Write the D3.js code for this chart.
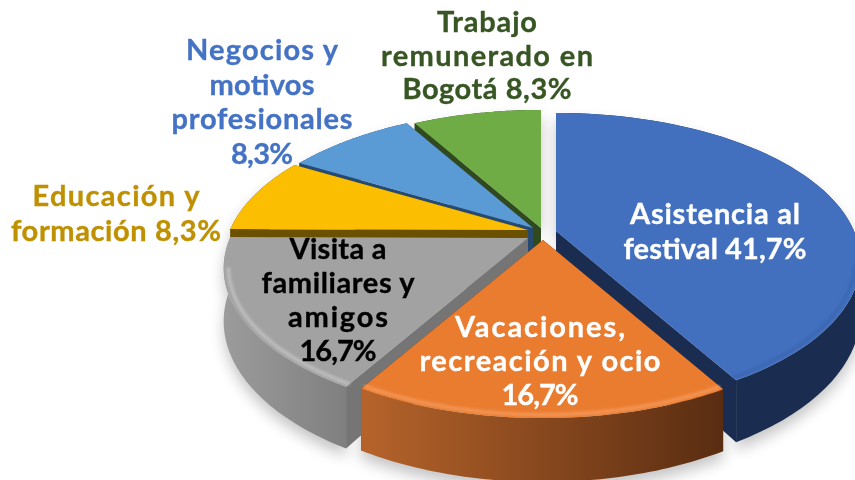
<!DOCTYPE html>
<html>
<head>
<meta charset="utf-8">
<script src="https://cdnjs.cloudflare.com/ajax/libs/d3/7.8.5/d3.min.js"></script>
<style>
  html, body { margin: 0; padding: 0; background: #fff; }
  svg { display: block; }
  text { font-family: "Lato", sans-serif; font-weight: 700; font-size: 29px; text-anchor: middle; stroke-width: 0.35px; }
</style>
</head>
<body>
<svg id="chart" width="855" height="480"></svg>
<script>
// values
var categories = ["Asistencia al festival", "Vacaciones, recreación y ocio", "Visita a familiares y amigos",
                  "Educación y formación", "Negocios y motivos profesionales", "Trabajo remunerado en Bogotá"]
var shares = [41.7, 16.7, 16.7, 8.3, 8.3, 8.3]
var labelLines = [
    ["Asistencia al", "festival 41,7%"],
    ["Vacaciones,", "recreación y ocio", "16,7%"],
    ["Visita a", "familiares y", "amigos", "16,7%"],
    ["Educación y", "formación 8,3%"],
    ["Negocios y", "motivos", "profesionales", "8,3%"],
    ["Trabajo", "remunerado en", "Bogotá 8,3%"]
]

// styling per slice
var topColors  = ["#4270bf", "#ea7c30", "#a2a2a2", "#fcbe00", "#5a9ad5", "#6fac46"]
var faceColors = ["#1a2c50", "#5c2e12", "#757575", "#6b5000", "#264a70", "#31491f"]
var textColors = ["#ffffff", "#ffffff", "#000000", "#bf9000", "#4472c4", "#375623"]
var rimColors  = ["#34599f", "#f8a56c", "#cfcfcf", null, null, null]
var rimOpacity = [0.5, 0.75, 0.75, 0, 0, 0]
// apex of every exploded slice
var apexX = [556, 543, 528, 528, 533, 541]
var apexY = [231, 240, 238, 230, 228, 228]
// label placement
var labelX = [715, 540, 338, 116, 262, 487]
var labelY = [224, 337, 259, 206, 60, 32]
var lineGap = [35, 34, 34, 35, 34.5, 33.5]
var lineWidths = [
    [170, 183],
    [170, 241, 77],
    [97, 153, 100, 77],
    [167, 210],
    [152, 105, 181, 62],
    [100, 212, 169]
]

var radiusX = 298, radiusY = 142, tilt = 0.2026, depth = 51

var svg = d3.select("#chart")
var defs = svg.append("defs")

defs.append("filter").attr("id", "shadowBlur")
    .attr("x", "-20%").attr("y", "-20%").attr("width", "140%").attr("height", "140%")
    .append("feGaussianBlur").attr("stdDeviation", 7)
defs.append("filter").attr("id", "rimBlur")
    .attr("x", "-5%").attr("y", "-5%").attr("width", "110%").attr("height", "110%")
    .append("feGaussianBlur").attr("stdDeviation", 1.6)

function wallGradient(id, x1, x2, from, to) {
    var g = defs.append("linearGradient").attr("id", id)
        .attr("gradientUnits", "userSpaceOnUse")
        .attr("x1", x1).attr("x2", x2).attr("y1", 0).attr("y2", 0)
    g.append("stop").attr("offset", 0).attr("stop-color", from)
    g.append("stop").attr("offset", 1).attr("stop-color", to)
}
wallGradient("wall1", 365, 720, "#b5632a", "#5a2d12")
wallGradient("wall2", 222, 360, "#9c9c9c", "#7c7c7c")
var wallFill = ["#1a2c50", "url(#wall1)", "url(#wall2)", "#6b5000", "#264a70", "#31491f"]

// perspective projection of a point on the pie
function project(i, angle, r, z) {
    var sx = r * Math.sin(angle)
    var sy = -r * Math.cos(angle)
    var w = 1 - tilt * sy
    return [apexX[i] + radiusX * sx / w, apexY[i] + (radiusY * sy + depth * z) / w]
}

var slices = d3.pie().sort(null).startAngle(0).endAngle(2 * Math.PI)(shares)
var line = d3.line()

function arcAngles(d) {
    return d3.range(0, 61).map(function(k) { return d.startAngle + (d.endAngle - d.startAngle) * k / 60 })
}
function topPath(d, i) {
    var pts = [project(i, 0, 0, 0)].concat(arcAngles(d).map(function(a) { return project(i, a, 1, 0) }))
    return line(pts) + "Z"
}
function wallPath(d, i) {
    var up = arcAngles(d).map(function(a) { return project(i, a, 1, 0) })
    var down = arcAngles(d).reverse().map(function(a) { return project(i, a, 1, 1) })
    return line(up.concat(down)) + "Z"
}
function cutPath(i, a) {
    return line([project(i, a, 0, 0), project(i, a, 1, 0), project(i, a, 1, 1), project(i, a, 0, 1)]) + "Z"
}

// soft shadow under the pie
var shadow = svg.append("g").attr("filter", "url(#shadowBlur)").attr("opacity", 0.28)
slices.forEach(function(d, i) {
    shadow.append("path").attr("d", wallPath(d, i)).attr("transform", "translate(0,8)").attr("fill", "#333")
    shadow.append("path").attr("d", topPath(d, i)).attr("transform", "translate(0,8)").attr("fill", "#333")
})

// back to front
var drawOrder = [5, 4, 3, 2, 0, 1]
drawOrder.forEach(function(i) {
    var d = slices[i]
    var g = svg.append("g").attr("class", "slice").attr("data-name", categories[i])
    g.append("path").attr("d", cutPath(i, d.startAngle)).attr("fill", faceColors[i])
    g.append("path").attr("d", cutPath(i, d.endAngle)).attr("fill", faceColors[i])
    g.append("path").attr("d", wallPath(d, i)).attr("fill", wallFill[i])
    g.append("path").attr("d", topPath(d, i)).attr("fill", topColors[i])
    if (rimColors[i]) {
        // soft bevel only on the front of the rim
        var rim = arcAngles(d).filter(function(a) { return Math.cos(a) < -0.2 })
            .map(function(a) { return project(i, a, 0.985, 0) })
        g.append("path").attr("d", line(rim)).attr("fill", "none")
            .attr("stroke", rimColors[i]).attr("stroke-width", 3)
            .attr("stroke-opacity", rimOpacity[i])
            .attr("filter", "url(#rimBlur)")
    }
})

labelLines.forEach(function(lines, i) {
    lines.forEach(function(s, k) {
        svg.append("text")
            .attr("x", labelX[i])
            .attr("y", labelY[i] + k * lineGap[i])
            .attr("textLength", lineWidths[i][k])
            .attr("lengthAdjust", "spacing")
            .attr("fill", textColors[i])
            .attr("stroke", textColors[i])
            .text(s)
    })
})
</script>
</body>
</html>
